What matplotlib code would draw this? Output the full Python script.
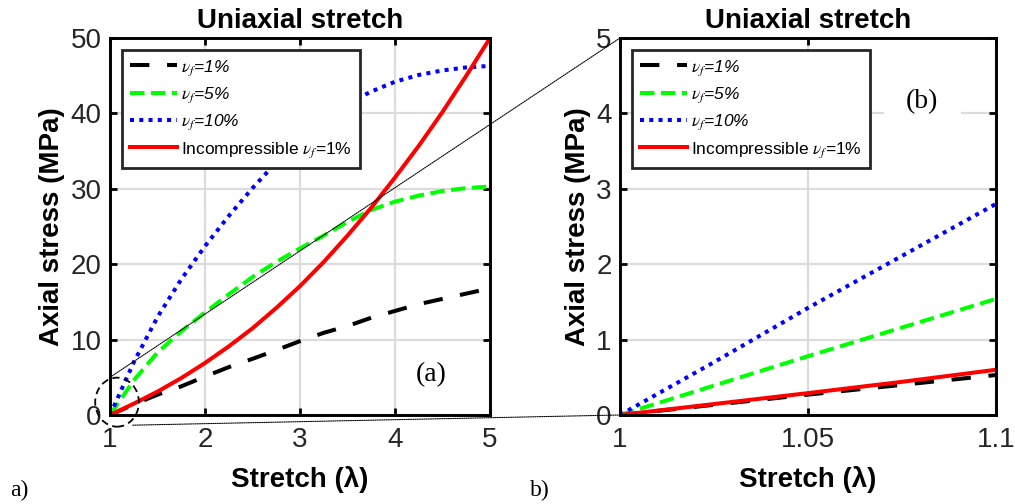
import numpy as np
import matplotlib
matplotlib.use("Agg")
import matplotlib.pyplot as plt
from matplotlib.patches import Ellipse, ConnectionPatch

plt.rcParams['font.family'] = ['Liberation Sans', 'DejaVu Sans']
plt.rcParams['mathtext.fontset'] = 'stix'

# Data - levy panel (cely rozsah protazeni)
stretch_a = [1, 1.25, 1.5, 1.75, 2, 2.25, 2.5, 2.75, 3, 3.25, 3.5, 3.75, 4,
             4.25, 4.5, 4.75, 5]
nf1_a = [0, 1.4, 2.7, 3.8, 5.1, 6.35, 7.45, 8.6, 9.8, 10.9, 11.8, 12.9, 13.8,
         14.7, 15.4, 16.1, 16.8]
nf5_a = [0, 4.6, 8.3, 11.1, 13.6, 16.0, 18.3, 20.3, 22.1, 23.8, 25.6, 27.2,
         28.3, 29.1, 29.7, 30.1, 30.3]
nf10_a = [0, 7.0, 13.0, 18.0, 22.4, 26.4, 30.1, 33.5, 36.6, 39.2, 41.3, 42.9,
          44.2, 45.1, 45.7, 46.1, 46.3]
incomp_a = [0, 1.5, 3.1, 4.9, 6.9, 9.1, 11.5, 14.2, 17.1, 20.3, 23.8, 27.5,
            31.5, 35.7, 40.2, 45.0, 50.0]

# Data - pravy panel (detail u lambda = 1)
stretch_b = [1, 1.025, 1.05, 1.075, 1.1]
nf1_b = [0, 0.135, 0.27, 0.40, 0.53]
nf5_b = [0, 0.39, 0.78, 1.16, 1.54]
nf10_b = [0, 0.70, 1.42, 2.11, 2.80]
incomp_b = [0, 0.145, 0.29, 0.44, 0.60]

labels = [r"$\nu_f$=1%", r"$\nu_f$=5%", r"$\nu_f$=10%",
          r"Incompressible $\nu_f$=1%"]

fig = plt.figure(figsize=(10.15, 5.04), dpi=100)
ax1 = fig.add_axes([0.1084, 0.1766, 0.3744, 0.748])
ax2 = fig.add_axes([0.6108, 0.1766, 0.3705, 0.748])

lw = 2.9
tick_col = '#262626'


def draw(ax, x, c1, c5, c10, ci):
    ax.plot(x, c1, color='black', lw=lw, dashes=(4.8, 4.4), label=labels[0])
    ax.plot(x, c5, color='#00ff00', lw=lw, dashes=(3.6, 1.6), label=labels[1])
    ax.plot(x, c10, color='blue', lw=lw, dashes=(1, 1.3), label=labels[2])
    ax.plot(x, ci, color='red', lw=lw, label=labels[3])
    ax.grid(True, color='#dcdcdc', lw=1.6)
    ax.set_axisbelow(True)
    for s in ax.spines.values():
        s.set_linewidth(2.1)
    ax.tick_params(direction='in', top=True, right=True, length=5, width=2,
                   labelsize=20, labelcolor=tick_col)
    ax.tick_params(axis='x', pad=9)
    ax.tick_params(axis='y', pad=6)
    ax.set_title("Uniaxial stretch", fontsize=20, fontweight='bold', pad=7)
    ax.set_xlabel("Stretch (λ)", fontsize=20, fontweight='bold', labelpad=9)
    ax.set_ylabel("Axial stress (MPa)", fontsize=20, fontweight='bold')
    leg = ax.legend(loc='upper left', fontsize=12.5, handlelength=2.7,
                    fancybox=False, framealpha=1, edgecolor='#262626',
                    borderaxespad=0.7, labelspacing=0.45, handletextpad=0.25,
                    borderpad=0.45)
    leg.get_frame().set_linewidth(2)
    for t in leg.get_texts()[:3]:
        t.set_fontstyle('italic')


draw(ax1, stretch_a, nf1_a, nf5_a, nf10_a, incomp_a)
ax1.set_xlim(1, 5)
ax1.set_ylim(0, 50)
ax1.set_xticks([1, 2, 3, 4, 5])
ax1.set_yticks([0, 10, 20, 30, 40, 50])

draw(ax2, stretch_b, nf1_b, nf5_b, nf10_b, incomp_b)
ax2.set_xlim(1, 1.1)
ax2.set_ylim(0, 5)
ax2.set_xticks([1, 1.05, 1.1])
ax2.set_xticklabels(["1", "1.05", "1.1"])
ax2.set_yticks([0, 1, 2, 3, 4, 5])

# popisky panelu
ax1.text(4.376, 5.4, "(a)", family='Liberation Serif', fontsize=20, ha='center',
         va='center', bbox=dict(fc='white', ec='none', pad=4))
ax2.text(1.0804, 4.15, "(b)", family='Liberation Serif', fontsize=20, ha='center',
         va='center', bbox=dict(fc='white', ec='none', pad=16))
fig.text(0.01, 0.015, "a)", family='Liberation Serif', fontsize=17)
fig.text(0.522, 0.015, "b)", family='Liberation Serif', fontsize=17)

# kruh zvetseni a spojovaci cary
circ = Ellipse((1.074, 1.7), 0.46, 6.5, fill=False, ec='black', lw=1.3,
               ls=(0, (4, 2.5)), clip_on=False, zorder=5)
ax1.add_patch(circ)
for pa, pb in [((1.0, 5.0), (1.0, 5.0)), ((1.24, -1.35), (1.0, 0.0))]:
    con = ConnectionPatch(xyA=pa, coordsA=ax1.transData, xyB=pb,
                          coordsB=ax2.transData, color='black', lw=0.8,
                          ls=(0, (1, 1)), zorder=10)
    fig.add_artist(con)

fig.savefig("out.png", dpi=100)
